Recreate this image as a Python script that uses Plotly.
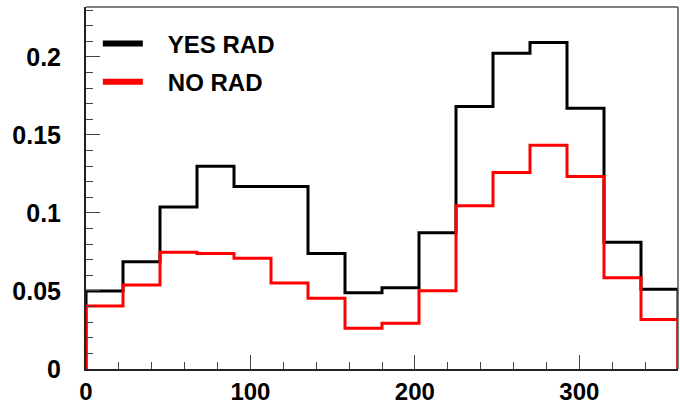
import plotly.graph_objects as go

# ---- data ----
bin_edges = [0, 22.5, 45, 67.5, 90, 112.5, 135, 157.5, 180, 202.5, 225, 247.5, 270, 292.5, 315, 337.5, 360]
yes_rad = [0.0500, 0.0688, 0.1038, 0.1300, 0.1169, 0.1169, 0.0741, 0.0489,
           0.0521, 0.0874, 0.1682, 0.2024, 0.2092, 0.1671, 0.0812, 0.0511]
no_rad = [0.0404, 0.0538, 0.0748, 0.0741, 0.0709, 0.0551, 0.0453, 0.0261,
          0.0293, 0.0502, 0.1047, 0.1259, 0.1434, 0.1233, 0.0585, 0.0318]
series_names = ["YES RAD", "NO RAD"]
x_ticks = [0, 100, 200, 300]
y_ticks = [0, 0.05, 0.1, 0.15, 0.2]
y_tick_text = ["0", "0.05", "0.1", "0.15", "0.2"]


def step_xy(edges, vals):
    xs = [edges[0]] + list(edges[:-1]) + [edges[-1], edges[-1]]
    ys = [0] + list(vals) + [vals[-1], 0]
    return xs, ys


fig = go.Figure()
font_family = "Liberation Sans, Arial, sans-serif"

for name, vals, color in [(series_names[0], yes_rad, "#000000"), (series_names[1], no_rad, "#ff0000")]:
    xs, ys = step_xy(bin_edges, vals)
    fig.add_trace(go.Scatter(x=xs, y=ys, mode="lines", line=dict(color=color, width=3, shape="hv"),
                             showlegend=False, hoverinfo="skip", cliponaxis=False))

# legend entries (thicker lines as in reference)
pad = "\u00a0" * 3
for i, (name, color) in enumerate([(series_names[0], "#000000"), (series_names[1], "#ff0000")]):
    fig.add_trace(go.Scatter(x=[None], y=[None], mode="lines", name=pad + name,
                             line=dict(color=color, width=6), legendgroup=str(i)))

axis_common = dict(
    showline=True, linecolor="#222222", linewidth=2, mirror=False,
    ticks="inside", tickcolor="#444444", tickwidth=1, ticklen=14,
    showgrid=False, zeroline=False, automargin=False,
)

fig.update_xaxes(range=[0, 360], tickvals=x_ticks,
                 minor=dict(dtick=20, ticks="inside", ticklen=7, tickcolor="#444444", tickwidth=1),
                 tickfont=dict(family=font_family, size=24, color="#000000", weight="bold"),
                 ticklabelstandoff=0, **axis_common)
fig.update_yaxes(range=[0, 0.232], tickvals=y_ticks, ticktext=y_tick_text,
                 minor=dict(dtick=0.01, ticks="inside", ticklen=7, tickcolor="#444444", tickwidth=1),
                 tickfont=dict(family=font_family, size=25, color="#000000", weight="bold"),
                 ticklabelstandoff=18, **axis_common)

# top/right frame
fig.add_shape(type="line", xref="paper", yref="paper", x0=0, x1=1, y0=1, y1=1,
              line=dict(color="#555555", width=1.5))
fig.add_shape(type="line", xref="paper", yref="paper", x0=1, x1=1, y0=0, y1=1,
              line=dict(color="#555555", width=1.5))

fig.update_layout(
    width=680, height=404,
    margin=dict(l=86, r=2, t=7, b=35),
    paper_bgcolor="white", plot_bgcolor="white",
    showlegend=True,
    legend=dict(x=0.02, y=0.96, xanchor="left", yanchor="top",
                bgcolor="rgba(0,0,0,0)", borderwidth=0,
                font=dict(family=font_family, size=24, color="#000000", weight="bold"),
                itemwidth=40, traceorder="grouped", tracegroupgap=4),
)

fig.write_html("out.html", config={"displayModeBar": False},
               post_script="document.body.style.margin='0px';document.body.style.overflow='hidden';")
